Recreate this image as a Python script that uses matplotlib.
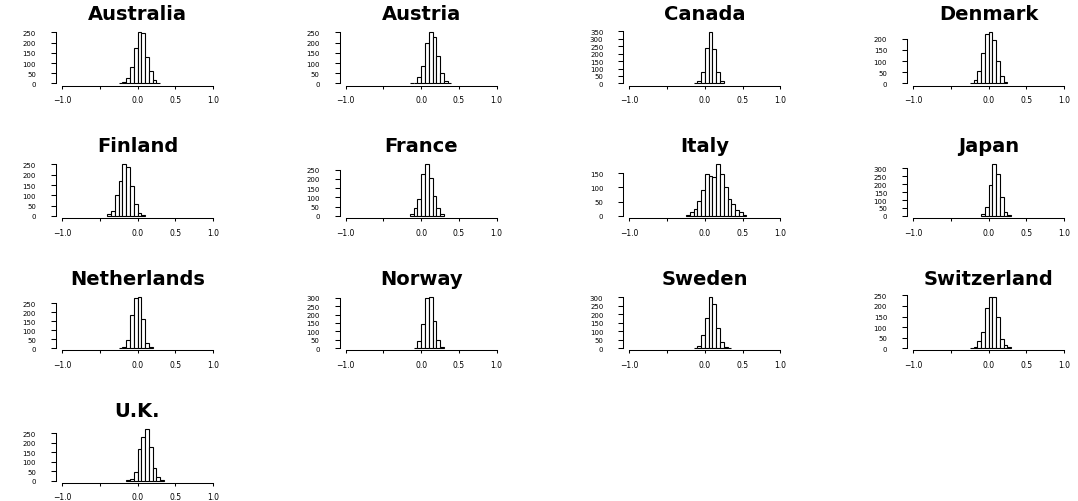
import matplotlib
matplotlib.use("Agg")
import matplotlib.pyplot as plt
import numpy as np

# ---------------- data ----------------
countries = ["Australia", "Austria", "Canada", "Denmark",
             "Finland", "France", "Italy", "Japan",
             "Netherlands", "Norway", "Sweden", "Switzerland",
             "U.K."]

bin_width = 0.05
# left edge of the first histogram bin for each country
first_break = [-0.25, -0.15, -0.15, -0.25,
               -0.40, -0.15, -0.25, -0.10,
               -0.25, -0.10, -0.15, -0.25,
               -0.15]

counts_australia = [2, 8, 28, 80, 175, 252, 248, 130, 60, 18, 3]
counts_austria = [1, 3, 32, 85, 200, 252, 230, 133, 52, 12, 3]
counts_canada = [3, 15, 80, 235, 345, 230, 80, 15]
counts_denmark = [3, 16, 57, 137, 222, 229, 195, 100, 35, 6]
counts_finland = [8, 25, 100, 170, 250, 237, 143, 57, 15, 5]
counts_france = [8, 40, 90, 225, 278, 205, 108, 40, 10]
counts_italy = [3, 12, 25, 52, 92, 145, 140, 135, 180, 147, 100, 60, 40, 20, 13, 4]
counts_japan = [12, 57, 197, 325, 265, 120, 27, 5]
counts_netherlands = [2, 5, 45, 185, 280, 285, 162, 28, 5]
counts_norway = [3, 45, 143, 300, 305, 160, 48, 5]
counts_sweden = [3, 15, 78, 175, 302, 262, 118, 38, 8, 2]
counts_switzerland = [2, 8, 32, 75, 190, 243, 240, 150, 42, 17, 4]
counts_uk = [2, 10, 45, 170, 232, 272, 180, 65, 18, 5]

all_counts = [counts_australia, counts_austria, counts_canada, counts_denmark,
              counts_finland, counts_france, counts_italy, counts_japan,
              counts_netherlands, counts_norway, counts_sweden, counts_switzerland,
              counts_uk]

x_ticks = [-1.0, -0.5, 0.0, 0.5, 1.0]
x_tick_labels = ["\u22121.0", "", "0.0", "0.5", "1.0"]
y_tick_step = 50

# ---------------- figure ----------------
W, H = 1078, 502
fig = plt.figure(figsize=(W / 100, H / 100), dpi=100)
fig.patch.set_facecolor("white")

col_left0, col_step, ax_w = 56, 283.7, 163
row_top0, row_step, ax_h = 31, 132.4, 55.5

for i, (name, counts, fb) in enumerate(zip(countries, all_counts, first_break)):
    r, c = divmod(i, 4)
    left = col_left0 + c * col_step
    top = row_top0 + r * row_step
    ax = fig.add_axes([left / W, 1 - (top + ax_h) / H, ax_w / W, ax_h / H])

    counts = np.array(counts, dtype=float)
    edges = fb + bin_width * np.arange(len(counts) + 1)
    ax.bar(edges[:-1], counts, width=bin_width, align="edge",
           facecolor="white", edgecolor="black", linewidth=0.8)

    ymax = counts.max()
    ax.set_xlim(-1.08, 1.08)
    ax.set_ylim(-0.04 * ymax, 1.04 * ymax)

    yt = np.arange(0, 1.04 * ymax + 1e-9, y_tick_step)
    ax.set_yticks(yt)
    ax.set_yticklabels([str(int(v)) for v in yt])
    ax.set_xticks(x_ticks)
    ax.set_xticklabels(x_tick_labels)

    for s in ("top", "right"):
        ax.spines[s].set_visible(False)
    ax.spines["left"].set_bounds(0, yt[-1])
    ax.spines["bottom"].set_bounds(-1, 1)
    for s in ("left", "bottom"):
        ax.spines[s].set_linewidth(0.75)

    ax.tick_params(axis="x", length=2.5, width=0.75, pad=4.5, labelsize=5.5)
    ax.tick_params(axis="y", length=3.4, width=0.75, pad=11, labelsize=5)
    ax.set_title(name, fontsize=14, fontweight="bold", pad=8)

fig.savefig("out.png", dpi=100, facecolor="white")
